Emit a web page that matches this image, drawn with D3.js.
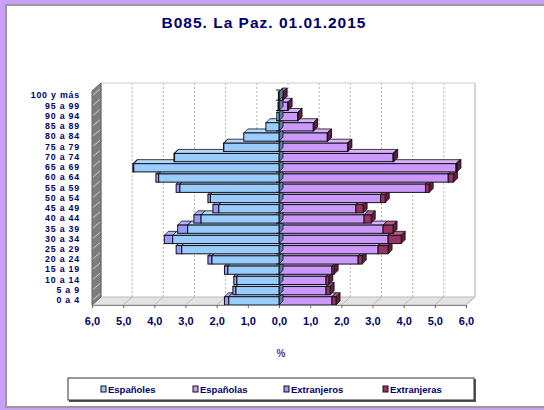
<!DOCTYPE html>
<html>
<head>
<meta charset="utf-8">
<script src="https://cdn.jsdelivr.net/npm/d3@7"></script>
<style>
  body { margin: 0; background: #c9a0f3; }
  svg { display: block; font-family: "Liberation Sans", Arial, sans-serif; }
</style>
</head>
<body>
<div id="chart"></div>
<script>
// age groups, bottom to top
var ages = ["0 a 4", "5 a 9", "10 a 14", "15 a 19", "20 a 24", "25 a 29", "30 a 34",
  "35 a 39", "40 a 44", "45 a 49", "50 a 54", "55 a 59", "60 a 64", "65 a 69",
  "70 a 74", "75 a 79", "80 a 84", "85 a 89", "90 a 94", "95 a 99", "100 y más"];

// % of total population
var espanoles = [1.61, 1.38, 1.35, 1.64, 2.15, 3.12, 3.41, 2.93, 2.50, 1.93, 2.20,
  3.18, 3.86, 4.66, 3.35, 1.77, 1.13, 0.42, 0.07, 0.03, 0.02];
var extranjeros = [0.14, 0.10, 0.10, 0.11, 0.13, 0.18, 0.27, 0.32, 0.23, 0.19, 0.08,
  0.12, 0.09, 0.03, 0.02, 0.01, 0, 0, 0, 0, 0];
var espanolas = [1.70, 1.51, 1.51, 1.70, 2.54, 3.18, 3.50, 3.34, 2.73, 2.47, 3.26,
  4.70, 5.43, 5.68, 3.66, 2.20, 1.55, 1.10, 0.60, 0.28, 0.12];
var extranjeras = [0.13, 0.13, 0.09, 0.07, 0.13, 0.32, 0.42, 0.32, 0.23, 0.23, 0.15,
  0.12, 0.17, 0.03, 0.02, 0.01, 0.01, 0.01, 0.01, 0.01, 0.01];

var ticks = [-6, -5, -4, -3, -2, -1, 0, 1, 2, 3, 4, 5, 6];
var legendNames = ["Españoles", "Españolas", "Extranjeros", "Extranjeras"];

var width = 544, height = 410;
var navy = "#00006e";
// 3d offsets: back wall and bar depth
var wallDx = 9, wallDy = 8, depth = 4;

var colors = {
  "Españoles": { front: "#99ccff", top: "#b3d9ff", side: "#5b7a99" },
  "Españolas": { front: "#cc99ff", top: "#d9b3ff", side: "#7a5b99" },
  "Extranjeros": { front: "#9999ff", top: "#b3b3ff", side: "#5b5b99" },
  "Extranjeras": { front: "#993366", top: "#b35c85", side: "#5c1f3d" }
};

var svg = d3.select("#chart").append("svg")
  .attr("width", width)
  .attr("height", height);

// white panel
svg.append("rect")
  .attr("x", 6).attr("y", 5)
  .attr("width", width + 10).attr("height", 402)
  .attr("fill", "#fff")
  .attr("stroke", "#999").attr("stroke-width", 2);

svg.append("text")
  .attr("x", 264).attr("y", 28)
  .attr("text-anchor", "middle")
  .attr("font-size", 15.5).attr("font-weight", "bold")
  .attr("letter-spacing", 1)
  .attr("fill", navy)
  .text("B085. La Paz. 01.01.2015");

var x = d3.scaleLinear().domain([-6, 6]).range([92, 466]);
var y = d3.scaleBand().domain(ages).range([305, 90]).padding(0);
var plotTop = y.range()[1], plotBottom = y.range()[0];

function poly(pts) { return "M" + pts.map(function (p) { return p.join(","); }).join("L") + "Z"; }

// floor
svg.append("path")
  .attr("d", poly([[x(-6), plotBottom], [x(6), plotBottom], [x(6) + wallDx, plotBottom - wallDy], [x(-6) + wallDx, plotBottom - wallDy]]))
  .attr("fill", "#e2e2e2").attr("stroke", "#bbb");

// back wall gridlines
svg.selectAll("line.grid")
  .data(ticks)
  .enter().append("line")
  .attr("class", "grid")
  .attr("x1", function (d) { return x(d) + wallDx; })
  .attr("x2", function (d) { return x(d) + wallDx; })
  .attr("y1", plotTop - wallDy + 1).attr("y2", plotBottom - wallDy)
  .attr("stroke", function (d) { return Math.abs(d) == 6 ? "#aaa" : "#b5b5b5"; })
  .attr("stroke-dasharray", function (d) { return Math.abs(d) == 6 ? null : "2,2"; });

svg.selectAll("line.floorgrid")
  .data(ticks)
  .enter().append("line")
  .attr("class", "floorgrid")
  .attr("x1", function (d) { return x(d) + wallDx; })
  .attr("x2", function (d) { return x(d); })
  .attr("y1", plotBottom - wallDy).attr("y2", plotBottom)
  .attr("stroke", "#bbb");

svg.append("line")
  .attr("x1", x(-6) + wallDx).attr("x2", x(6) + wallDx)
  .attr("y1", plotTop - wallDy + 1).attr("y2", plotTop - wallDy + 1)
  .attr("stroke", "#ccc");

// left side wall with hatch lines at each category
svg.append("path")
  .attr("d", poly([[x(-6), plotTop + 1], [x(-6) + wallDx, plotTop - wallDy + 1], [x(-6) + wallDx, plotBottom - wallDy], [x(-6), plotBottom]]))
  .attr("fill", "#7d7d7d").attr("stroke", "#666");
svg.selectAll("line.hatch")
  .data(ages)
  .enter().append("line")
  .attr("class", "hatch")
  .attr("x1", x(-6) + 1).attr("x2", x(-6) + wallDx - 1)
  .attr("y1", function (d) { return y(d) + 5; })
  .attr("y2", function (d) { return y(d) + 5 - wallDy + 2; })
  .attr("stroke", "#e8e8e8").attr("stroke-width", 0.8);

// bar segments: [name, start, end] per row
function segments(i) {
  var a = espanoles[i], b = extranjeros[i], c = espanolas[i], e = extranjeras[i];
  return {
    right: [["Españolas", 0, c], ["Extranjeras", c, c + e]],
    left: [["Extranjeros", -(a + b), -a], ["Españoles", -a, 0]]
  };
}

function drawBar(g, seg, yTop, h) {
  var c = colors[seg[0]];
  var x1 = x(seg[1]), x2 = x(seg[2]);
  if (x2 - x1 < 0.05) return;
  g.append("path")
    .attr("d", poly([[x1, yTop], [x2, yTop], [x2 + depth, yTop - depth], [x1 + depth, yTop - depth]]))
    .attr("fill", c.top).attr("stroke", "#111").attr("stroke-width", 0.8);
  g.append("path")
    .attr("d", poly([[x2, yTop], [x2 + depth, yTop - depth], [x2 + depth, yTop + h - depth], [x2, yTop + h]]))
    .attr("fill", c.side).attr("stroke", "#111").attr("stroke-width", 0.8);
  g.append("rect")
    .attr("x", x1).attr("y", yTop)
    .attr("width", x2 - x1).attr("height", h)
    .attr("fill", c.front).attr("stroke", "#111").attr("stroke-width", 1);
}

var bars = svg.append("g");
ages.forEach(function (age, i) {
  var s = segments(i);
  var yTop = y(age) + depth * 0.5, h = y.bandwidth() - depth * 0.5;
  s.right.forEach(function (seg) { drawBar(bars, seg, yTop, h); });
  s.left.forEach(function (seg) { drawBar(bars, seg, yTop, h); });
});

// category ticks at zero
svg.selectAll("line.ctick")
  .data(ages)
  .enter().append("line")
  .attr("class", "ctick")
  .attr("x1", x(0) - 3).attr("x2", x(0) + 1)
  .attr("y1", function (d) { return y(d); })
  .attr("y2", function (d) { return y(d); })
  .attr("stroke", "#111");

// category labels
svg.selectAll("text.age")
  .data(ages)
  .enter().append("text")
  .attr("class", "age")
  .attr("x", 80)
  .attr("y", function (d) { return y(d) + y.bandwidth() / 2 + 3.3; })
  .attr("text-anchor", "end")
  .attr("font-size", 8.8).attr("font-weight", "bold")
  .attr("letter-spacing", 0.8)
  .attr("fill", navy)
  .text(function (d) { return d; });

// value axis
var fmt = function (d) { return d3.format(".1f")(Math.abs(d)).replace(".", ","); };
var axis = svg.append("g")
  .attr("transform", "translate(0," + plotBottom + ")")
  .call(d3.axisBottom(x).tickValues(ticks).tickFormat(fmt).tickSize(3).tickPadding(9));
axis.select(".domain").attr("stroke", "#888");
axis.selectAll(".tick line").attr("stroke", "#666");
axis.selectAll(".tick text")
  .attr("font-family", "Liberation Sans, Arial, sans-serif")
  .attr("font-size", 11).attr("font-weight", "bold")
  .attr("fill", navy);

svg.append("text")
  .attr("x", x(0) + 2).attr("y", 357)
  .attr("text-anchor", "middle")
  .attr("font-size", 10).attr("font-weight", "bold")
  .attr("fill", "#4040a0")
  .text("%");

// legend
svg.append("rect")
  .attr("x", 69).attr("y", 379).attr("width", 407).attr("height", 23)
  .attr("fill", "#555");
svg.append("rect")
  .attr("x", 68).attr("y", 378).attr("width", 406).attr("height", 22)
  .attr("fill", "#fff").attr("stroke", "#333");

var legendX = [101, 193, 284, 383];
var items = svg.selectAll("g.leg")
  .data(legendNames)
  .enter().append("g")
  .attr("class", "leg")
  .attr("transform", function (d, i) { return "translate(" + legendX[i] + ",389)"; });
items.append("rect")
  .attr("x", 0).attr("y", -3).attr("width", 5).attr("height", 6)
  .attr("fill", function (d) { return colors[d].front; })
  .attr("stroke", "#111");
items.append("text")
  .attr("x", 7).attr("y", 3.5)
  .attr("font-size", 9.5).attr("font-weight", "bold")
  .attr("fill", navy)
  .text(function (d) { return d; });
</script>
</body>
</html>
